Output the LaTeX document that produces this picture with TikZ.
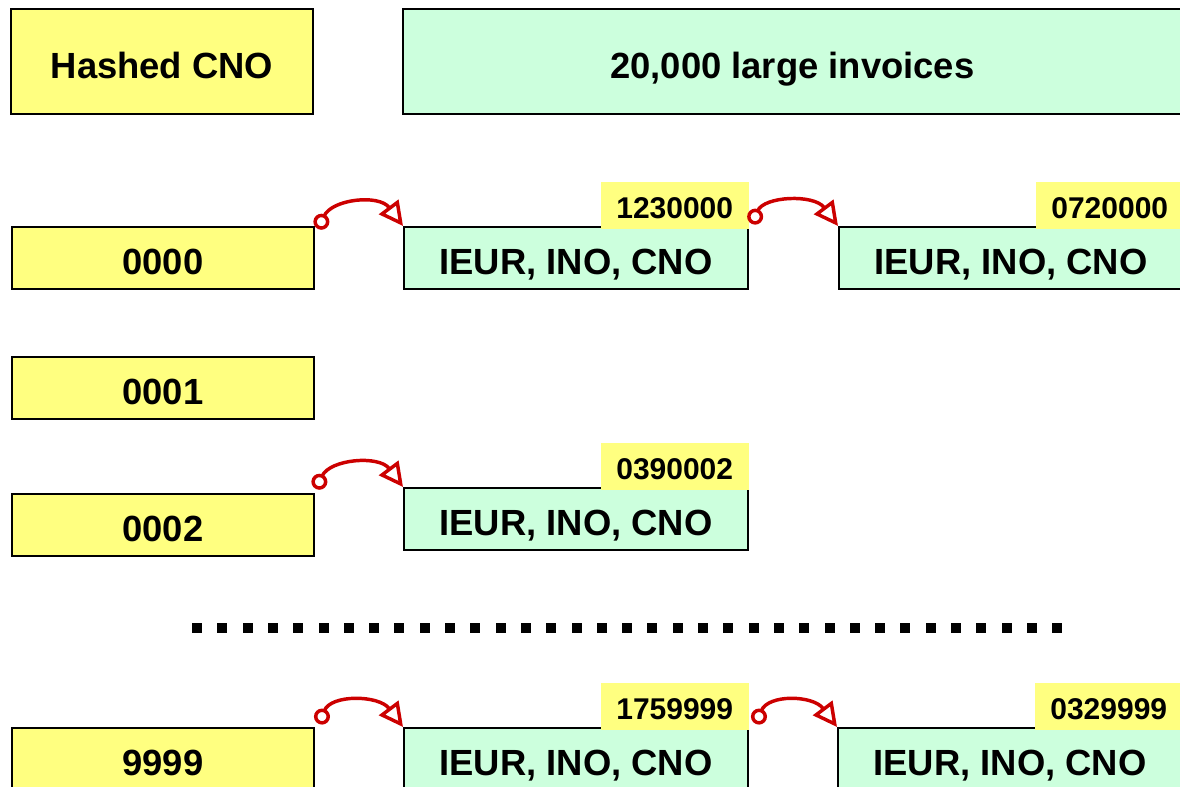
\documentclass[tikz,border=0pt]{standalone}
\usepackage{fontspec}
\setmainfont{Liberation Sans}
\usetikzlibrary{calc,positioning,arrows.meta}

\definecolor{hashyellow}{RGB}{255,255,128}
\definecolor{invgreen}{RGB}{204,255,221}
\definecolor{linkred}{RGB}{204,0,0}

\begin{document}
\begin{tikzpicture}
% box and pointer styles
[
    x=0.75pt, y=-0.75pt,
    hashbox/.style={draw=black, line width=1.5pt, fill=hashyellow, inner sep=0pt,
      minimum width=226.5pt, minimum height=46.5pt, anchor=north west,
      text height=25pt, text depth=0pt,
      font=\fontsize{27.3}{30}\selectfont\bfseries},
    invbox/.style={draw=black, line width=1.5pt, fill=invgreen, inner sep=0pt,
      minimum width=258pt, minimum height=46.5pt, anchor=north west,
      text height=25pt, text depth=0pt,
      font=\fontsize{27.3}{30}\selectfont\bfseries},
    keytag/.style={fill=hashyellow, inner sep=0pt, minimum width=111pt,
      minimum height=35pt, anchor=south east,
      text height=19.8pt, text depth=0pt,
      font=\fontsize{22.5}{24}\selectfont\bfseries},
    link/.style={draw=linkred, line width=2.6pt,
      {Circle[open,length=12pt,width=12pt]}-{Triangle[open,length=18pt,width=18pt]}}
]

\useasboundingbox (0,0) rectangle (1180,787);

% headers
\node[hashbox, minimum height=78.75pt] (head) at (10,8) {Hashed CNO};
\node[invbox, minimum width=584pt, minimum height=78.75pt] (invhead) at (402,8) {20,000 large invoices};

% hash buckets
\node[hashbox] (h0) at (11,226) {0000};
\node[hashbox] (h1) at (11,356) {0001};
\node[hashbox] (h2) at (11,493) {0002};
\node[hashbox] (h9) at (11,727) {9999};

% invoice chains
\node[invbox] (i00) at (403,226) {IEUR, INO, CNO};
\node[invbox] (i01) at (838,226) {IEUR, INO, CNO};
\node[invbox] (i20) at (403,487) {IEUR, INO, CNO};
\node[invbox] (i90) at (403,727) {IEUR, INO, CNO};
\node[invbox] (i91) at (837,727) {IEUR, INO, CNO};

% invoice numbers
\node[keytag] (k00) at ($(i00.north east)+(0,3)$) {1230000};
\node[keytag] (k01) at ($(i01.north east)+(0,3)$) {0720000};
\node[keytag] (k20) at ($(i20.north east)+(0,3)$) {0390002};
\node[keytag] (k90) at ($(i90.north east)+(0,3)$) {1759999};
\node[keytag] (k91) at ($(i91.north east)+(0,3)$) {0329999};

% pointers
\draw[link] ($(h0.north east)+(3,3)$) .. controls +(14,-30) and +(-24,-32) .. (i00.north west);
\draw[link] ($(i00.north east)+(3,-2)$) .. controls +(12,-28) and +(-24,-32) .. (i01.north west);
\draw[link] ($(h2.north east)+(1,-4)$) .. controls +(14,-30) and +(-24,-32) .. (i20.north west);
\draw[link] ($(h9.north east)+(4,-3)$) .. controls +(12,-30) and +(-24,-32) .. (i90.north west);
\draw[link] ($(i90.north east)+(7,-3)$) .. controls +(12,-30) and +(-24,-32) .. (i91.north west);

% omitted buckets
\foreach \i in {0,...,34}
  \fill (192+\i*25.3,623) rectangle +(10,10);

\end{tikzpicture}
\end{document}
